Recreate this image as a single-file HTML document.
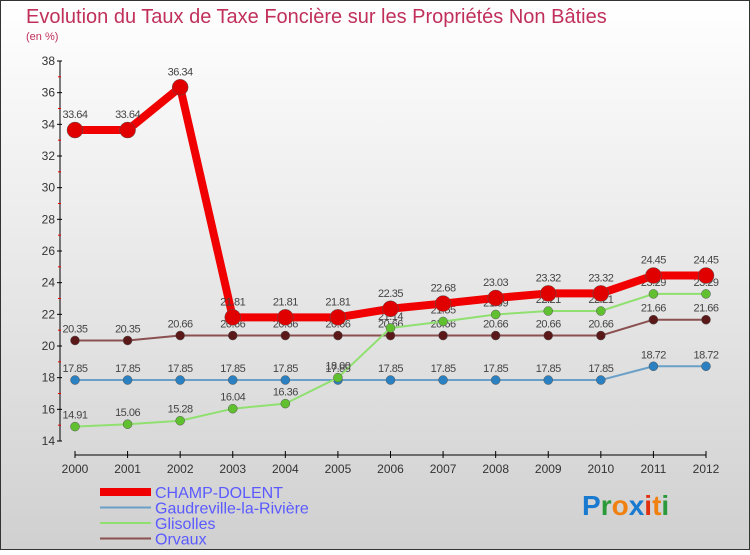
<!DOCTYPE html>
<html><head><meta charset="utf-8"><style>
html,body{margin:0;padding:0;}
body{width:750px;height:550px;overflow:hidden;font-family:"Liberation Sans",sans-serif;}
</style></head><body>
<svg id="chart" width="750" height="550" xmlns="http://www.w3.org/2000/svg">
<defs><linearGradient id="bg" x1="0" y1="0" x2="0" y2="1"><stop offset="0" stop-color="#ffffff"/><stop offset="1" stop-color="#d0d0d0"/></linearGradient></defs>
<rect x="0.5" y="0.5" width="749" height="549" fill="url(#bg)" stroke="#333" stroke-width="1"/>
<text x="26" y="23" font-size="20" fill="#c0305a">Evolution du Taux de Taxe Foncière sur les Propriétés Non Bâties</text>
<text x="26" y="40" font-size="11" fill="#c0305a">(en %)</text>
<g id="axes"></g>
<g id="series"></g>
<g id="legend"></g>
<text x="582" y="515" font-size="28" font-weight="bold"><tspan fill="#1a7ad0">P</tspan><tspan fill="#2a9a3a">r</tspan><tspan fill="#f08010">o</tspan><tspan fill="#1a7ad0">x</tspan><tspan fill="#e03010">i</tspan><tspan fill="#f08010">t</tspan><tspan fill="#2a9a3a">i</tspan></text>
</svg>
<script>
const years=[2000,2001,2002,2003,2004,2005,2006,2007,2008,2009,2010,2011,2012];
const yTicks=[14,16,18,20,22,24,26,28,30,32,34,36,38];
const champ=[33.64,33.64,36.34,21.81,21.81,21.81,22.35,22.68,23.03,23.32,23.32,24.45,24.45];
const gaud=[17.85,17.85,17.85,17.85,17.85,17.85,17.85,17.85,17.85,17.85,17.85,18.72,18.72];
const glis=[14.91,15.06,15.28,16.04,16.36,18,21.14,21.55,21.99,22.21,22.21,23.29,23.29];
const orv=[20.35,20.35,20.66,20.66,20.66,20.66,20.66,20.66,20.66,20.66,20.66,21.66,21.66];
const names=["CHAMP-DOLENT","Gaudreville-la-Rivière","Glisolles","Orvaux"];
const NS="http://www.w3.org/2000/svg";
const x=i=>75+i*(706-75)/12;
const y=v=>441-(v-14)*(380/24);
function mk(tag,attrs,parent){const e=document.createElementNS(NS,tag);for(const k in attrs)e.setAttribute(k,attrs[k]);parent.appendChild(e);return e;}
const ax=document.getElementById('axes');
let a=mk('line',{x1:60,y1:61,x2:60,y2:441,stroke:'#000'},ax);


a=mk('line',{x1:75,y1:455,x2:706,y2:455,stroke:'#000'},ax);


yTicks.forEach(t=>{
 mk('line',{x1:57,y1:y(t),x2:62,y2:y(t),stroke:'#000'},ax);
 if(t<38) mk('line',{x1:58,y1:y(t+1),x2:61,y2:y(t+1),stroke:'#e00'},ax);
 const tx=mk('text',{x:55,y:y(t)+4,'font-size':12,'text-anchor':'end',fill:'#333'},ax);tx.textContent=t;
 
 
});
years.forEach((yr,i)=>{
 mk('line',{x1:x(i),y1:451,x2:x(i),y2:458,stroke:'#000'},ax);
 const tx=mk('text',{x:x(i),y:473,'font-size':12,'text-anchor':'middle',fill:'#333'},ax);tx.textContent=yr;
 
 
});
const sg=document.getElementById('series');
const defs=[[orv,'#8b5050','#5a1818',2,4.5,'orvaux'],[gaud,'#6aa0c8','#2a80c0',2,4.5,'gaudreville'],[glis,'#90e070','#60c030',2,4.5,'glisolles'],[champ,'#f00000','#e00000',8,8,'champ-dolent']];
defs.forEach(([d,lc,pc,w,r,nm])=>{
 const g=mk('g',{},sg);
 
 
 const l=mk('polyline',{points:d.map((v,i)=>x(i)+','+y(v)).join(' '),fill:'none',stroke:lc,'stroke-width':w,'stroke-linejoin':'round'},g);
 
 
 d.forEach((v,i)=>{
  const c=mk('circle',{cx:x(i),cy:y(v),r:r,fill:pc,stroke:'#555','stroke-width':0.5},g);
  
  
  const t=mk('text',{x:x(i),y:y(v)-(nm==='champ-dolent'?12:8),'font-size':11,'text-anchor':'middle',fill:'#444','letter-spacing':'-0.5'},g);
  t.textContent=v.toFixed(2);
  
  
 });
});
const lg=document.getElementById('legend');
const lcs=[['#f00000',8],['#6aa0c8',2],['#90e070',2],['#8b5050',2]];
names.forEach((n,i)=>{
 const yy=492+i*15.5;
 const g=mk('g',{},lg);
 
 
 mk('line',{x1:100,y1:yy,x2:151,y2:yy,stroke:lcs[i][0],'stroke-width':lcs[i][1]},g);
 const t=mk('text',{x:155,y:yy+6,'font-size':16,fill:'#5a5aff'},g);t.textContent=n;
});
</script>
</body></html>
